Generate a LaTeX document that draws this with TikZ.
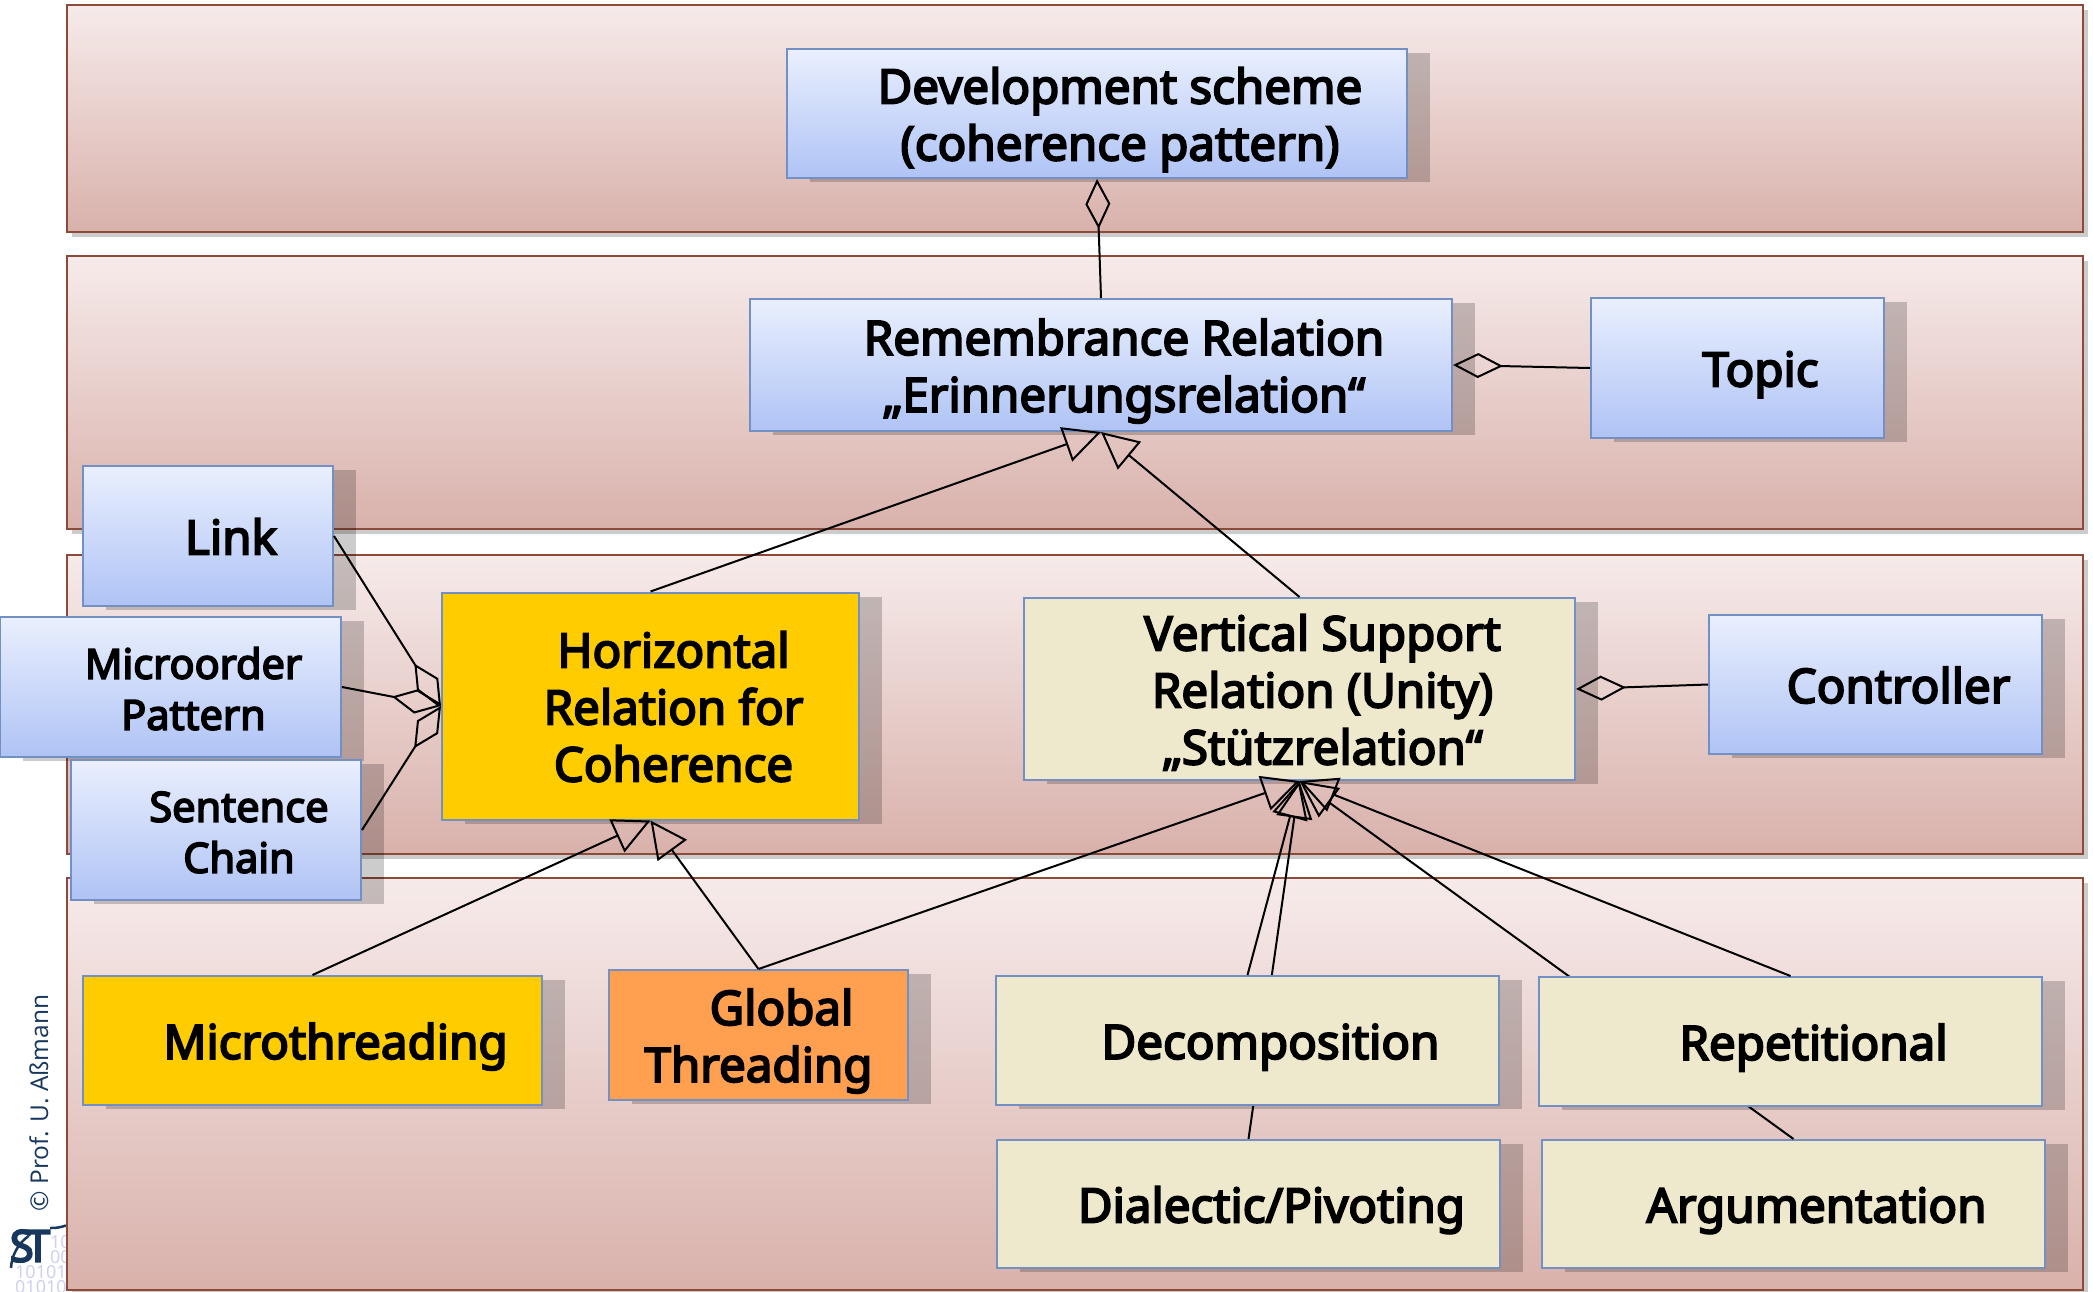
\documentclass[tikz,border=0pt]{standalone}
\usepackage{fontspec}
\setmainfont{Noto Sans}
\newfontfamily\creditfont{Open Sans}
\newfontfamily\boxfont{Noto Sans}[FakeBold=4]
\usepackage{tikz}
\usetikzlibrary{shadows}
\usetikzlibrary{arrows.meta}
\definecolor{bandtop}{HTML}{F6EBEA}
\definecolor{bandbottom}{HTML}{D9B1AB}
\definecolor{bandline}{HTML}{8C4A38}
\definecolor{bluetop}{HTML}{E9EFFD}
\definecolor{bluebottom}{HTML}{AFC3F5}
\definecolor{boxline}{HTML}{7390C4}
\definecolor{plainbeige}{HTML}{EEE8CD}
\definecolor{plainyellow}{HTML}{FFCC00}
\definecolor{plainorange}{HTML}{FF9F50}
\definecolor{logoblue}{HTML}{17375E}
\definecolor{logolilac}{HTML}{CFCFF2}
\tikzstyle{band}=[draw=bandline,line width=2pt,inner sep=0pt,top color=bandtop,bottom color=bandbottom,
  drop shadow={shadow xshift=5pt,shadow yshift=-5pt,fill=black,opacity=.2}]
\tikzstyle{umlbox}=[draw=boxline,line width=2pt,inner sep=0pt,font=\boxfont\fontsize{47.5}{57}\selectfont,
  drop shadow={shadow xshift=23pt,shadow yshift=-4pt,fill=black,opacity=.2}]
\tikzstyle{bluebox}=[umlbox,top color=bluetop,bottom color=bluebottom]
\tikzstyle{beigebox}=[umlbox,fill=plainbeige]
\tikzstyle{yellowbox}=[umlbox,fill=plainyellow]
\tikzstyle{orangebox}=[umlbox,fill=plainorange]
\tikzstyle{smalllabel}=[font=\boxfont\fontsize{41.5}{51}\selectfont]
\tikzstyle{aggregation}=[draw,line width=2pt,-{Diamond[open,length=50pt,width=25pt]}]
\tikzstyle{generalization}=[draw,line width=2pt,-{Triangle[open,length=37pt,width=36pt]}]
\newcommand{\boxlines}[1]{\raisebox{0pt}[\dimexpr\height+7pt\relax][\dimexpr\depth-7pt\relax]{\begin{tabular}{@{}c@{}}#1\end{tabular}}}
\newcommand{\boxlabel}[1]{\hspace*{46pt}\boxlines{#1}}

\begin{document}
\begin{tikzpicture}[x=1pt,y=-1pt]
    \useasboundingbox (0,0) rectangle (2093,1291);
    \clip (0,0) rectangle (2093,1291);
    % Credit and logo sit under the bands
    \node[rotate=90,text=logoblue,font=\creditfont\fontsize{24.5}{30}\selectfont] (credit) at (39,1103) {© Prof. U. Aßmann};
    \draw[logoblue,line width=2.5pt] (50,1228) arc (92:70:42);
    \draw[logoblue,line width=2.5pt] (11,1268) arc (183:235:42);
    \node[text=logolilac,anchor=north west,align=left,inner sep=0pt,font=\fontsize{18}{15}\selectfont] (digits) at (15,1235)
        {\hspace*{35pt}10\\\hspace*{35pt}00\\10101\\01010};
    \node[text=logoblue,inner sep=0pt,font=\boxfont\fontsize{44}{44}\selectfont] (logo) at (30,1246) {S\kern-8pt T};
    % First we draw the bands
    \foreach \pos/\high/\name in {{(1075,118.5)/227/banddev}, {(1075,392.5)/273/bandrem}, {(1075,704.5)/299/bandhor}, {(1075,1084)/412/bandsub}}
        \node[band,minimum width=2016pt,minimum height=\high pt] (\name) at \pos {};
    % Then the boxes that the two long connectors run behind
    \node[bluebox,minimum width=620pt,minimum height=129pt] (dev) at (1097,113.5) {\boxlabel{Development scheme\\(coherence pattern)}};
    \node[bluebox,minimum width=702pt,minimum height=132pt] (rem) at (1101,365) {\boxlabel{Remembrance Relation\\„Erinnerungsrelation“}};
    \node[bluebox,minimum width=293pt,minimum height=140pt] (topic) at (1737.5,368) {\boxlabel{Topic}};
    \node[bluebox,minimum width=250pt,minimum height=140pt] (link) at (208,536) {\boxlabel{Link}};
    \node[bluebox,smalllabel,minimum width=341pt,minimum height=140pt] (microorder) at (170.5,687) {\boxlabel{Microorder\\Pattern}};
    \node[bluebox,smalllabel,minimum width=290pt,minimum height=140pt] (sentence) at (216,830) {\boxlabel{Sentence\\Chain}};
    \node[yellowbox,minimum width=417pt,minimum height=227pt] (horizontal) at (650.5,706) {\boxlabel{Horizontal\\Relation for\\Coherence}};
    \node[beigebox,minimum width=551pt,minimum height=182pt] (vertical) at (1299.5,689) {\boxlabel{Vertical Support\\Relation (Unity)\\„Stützrelation“}};
    \node[bluebox,minimum width=333pt,minimum height=139pt] (controller) at (1875.5,684.5) {\boxlabel{Controller}};
    \node[beigebox,minimum width=503pt,minimum height=128pt] (dialectic) at (1248.5,1204) {\boxlabel{Dialectic/Pivoting}};
    \node[beigebox,minimum width=503pt,minimum height=128pt] (argumentation) at (1793.5,1204) {\boxlabel{Argumentation}};
    \foreach \source/\dest in {dialectic/vertical, argumentation/vertical}
        \path[generalization] (\source.north) -- (\dest.south);
    \node[beigebox,minimum width=503pt,minimum height=129pt] (decomposition) at (1247.5,1040.5) {\boxlabel{Decomposition}};
    \node[beigebox,minimum width=503pt,minimum height=129pt] (repetitional) at (1790.5,1041.5) {\boxlabel{Repetitional}};
    \node[yellowbox,minimum width=459pt,minimum height=129pt] (microthreading) at (312.5,1040.5) {\boxlabel{Microthreading}};
    \node[orangebox,minimum width=299pt,minimum height=130pt] (global) at (758.5,1035) {\boxlines{\hspace*{46pt}Global\\Threading}};
    % Connect the boxes
    \foreach \source/\dest in {rem.north/dev.south, topic.west/rem.east, controller.west/vertical.east, link.east/horizontal.west, microorder.east/horizontal.west, sentence.east/horizontal.west}
        \path[aggregation] (\source) -- (\dest);
    \foreach \source/\dest in {horizontal.north/rem.south, vertical.north/rem.south, microthreading.north/horizontal.south, global.north/horizontal.south, global.north/vertical.south, decomposition.north/vertical.south, repetitional.north/vertical.south}
        \path[generalization] (\source) -- (\dest);
\end{tikzpicture}
\end{document}
